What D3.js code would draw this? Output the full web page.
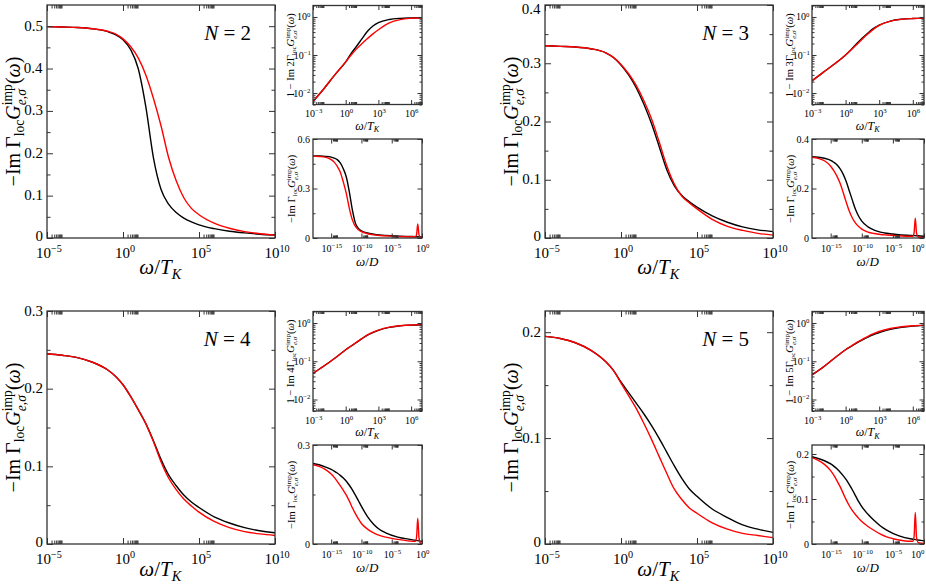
<!DOCTYPE html>
<html>
<head>
<meta charset="utf-8">
<script src="https://cdn.jsdelivr.net/npm/d3@7"></script>
<style>
body { margin: 0; background: #fff; }
svg { display: block; }
</style>
</head>
<body>
<div id="graph"></div>
<script>
const FONT = '"Liberation Serif", "DejaVu Serif", serif';
const FRAME = '#333';

// main panels: x = log10(omega/T_K)
const mainX = [-5,-4,-3,-2,-1,-0.5,0,0.5,1,1.5,2,2.5,3,3.5,4,4.5,5,6,7,8,9,10];
const mainBlackN2 = [0.499,0.498,0.497,0.494,0.487,0.48,0.468,0.445,0.40,0.31,0.19,0.115,0.08,0.06,0.047,0.038,0.031,0.022,0.016,0.012,0.009,0.007];
const mainRedN2   = [0.499,0.498,0.497,0.494,0.488,0.482,0.47,0.452,0.425,0.385,0.33,0.265,0.19,0.135,0.095,0.07,0.055,0.035,0.023,0.015,0.01,0.007];
const mainBlackN3 = [0.330,0.329,0.328,0.325,0.318,0.31,0.297,0.28,0.258,0.23,0.197,0.158,0.118,0.09,0.073,0.062,0.053,0.038,0.027,0.019,0.014,0.011];
const mainRedN3   = [0.330,0.329,0.328,0.325,0.318,0.31,0.298,0.282,0.262,0.236,0.205,0.166,0.125,0.093,0.072,0.06,0.05,0.032,0.02,0.013,0.008,0.005];
const mainBlackN4 = [0.245,0.243,0.240,0.234,0.224,0.216,0.205,0.19,0.173,0.155,0.133,0.109,0.089,0.075,0.063,0.054,0.047,0.035,0.027,0.021,0.017,0.0145];
const mainRedN4   = [0.245,0.243,0.240,0.234,0.224,0.216,0.205,0.19,0.173,0.155,0.132,0.106,0.085,0.07,0.058,0.049,0.041,0.029,0.021,0.016,0.013,0.011];
const mainBlackN5 = [0.196,0.194,0.19,0.183,0.172,0.164,0.153,0.143,0.133,0.123,0.112,0.1,0.087,0.074,0.062,0.052,0.045,0.033,0.025,0.018,0.014,0.011];
const mainRedN5   = [0.196,0.194,0.19,0.183,0.172,0.164,0.152,0.14,0.128,0.114,0.099,0.083,0.067,0.052,0.042,0.034,0.029,0.02,0.014,0.01,0.008,0.006];

// upper insets: x = log10(omega/T_K), y = 1 - Im N Gamma G
const topX = [-3,-2,-1,0,0.5,1,1.5,2,2.5,3,4,5,6,7];
const topBlackN2 = [0.006,0.013,0.03,0.066,0.11,0.17,0.27,0.42,0.58,0.71,0.86,0.92,0.94,0.95];
const topRedN2   = [0.006,0.013,0.03,0.066,0.1,0.145,0.2,0.27,0.36,0.46,0.7,0.85,0.92,0.95];
const topBlackN3 = [0.021,0.035,0.058,0.1,0.14,0.2,0.28,0.38,0.5,0.61,0.78,0.87,0.91,0.93];
const topRedN3   = [0.021,0.035,0.058,0.1,0.138,0.19,0.265,0.36,0.48,0.6,0.78,0.87,0.91,0.93];
const topBlackN4 = [0.048,0.075,0.12,0.2,0.25,0.31,0.39,0.48,0.56,0.64,0.77,0.84,0.88,0.9];
const topRedN4   = [0.048,0.075,0.12,0.2,0.25,0.315,0.395,0.49,0.575,0.655,0.78,0.85,0.89,0.91];
const topBlackN5 = [0.044,0.07,0.12,0.2,0.245,0.3,0.36,0.43,0.5,0.56,0.68,0.77,0.83,0.87];
const topRedN5   = [0.044,0.07,0.12,0.2,0.25,0.31,0.375,0.45,0.525,0.6,0.72,0.8,0.85,0.88];

// lower insets: x = log10(omega/D)
const botX = [-18,-17,-16,-15,-14.5,-14,-13.5,-13,-12.5,-12,-11.5,-11,-10.5,-10,-9,-8,-7,-6,-4,-2,-1,0];
const botRedXL = [-18,-17,-16,-15,-14.5,-14,-13.5,-13,-12.5,-12,-11.5,-11,-10.5,-10,-9,-8,-7,-6,-4,-2,-1.1,-0.9,-0.7,-0.5,-0.3,0];
const botRedXR = [-18,-17,-16,-15,-14.5,-14,-13.5,-13,-12.5,-12,-11.5,-11,-10.5,-10,-9,-8,-7,-6,-4,-2.5,-1.8,-1.6,-1.4,-1.2,-0.9,0];
const botBlackN2 = [0.498,0.497,0.495,0.49,0.484,0.475,0.455,0.42,0.37,0.28,0.17,0.09,0.058,0.043,0.03,0.023,0.018,0.015,0.011,0.009,0.008,0.006];
const botRedN2   = [0.496,0.494,0.49,0.475,0.46,0.435,0.4,0.34,0.27,0.18,0.11,0.07,0.05,0.038,0.026,0.019,0.015,0.013,0.01,0.008,0.008,0.02,0.085,0.02,0.004,0.001];
const botBlackN3 = [0.328,0.326,0.322,0.314,0.306,0.296,0.28,0.258,0.228,0.19,0.152,0.115,0.088,0.068,0.045,0.032,0.024,0.019,0.013,0.01,0.009,0.007];
const botRedN3   = [0.326,0.322,0.312,0.29,0.272,0.25,0.222,0.185,0.145,0.108,0.08,0.06,0.046,0.036,0.024,0.018,0.014,0.012,0.009,0.007,0.007,0.02,0.08,0.02,0.004,0.001];
const botBlackN4 = [0.244,0.24,0.234,0.226,0.221,0.215,0.208,0.2,0.19,0.178,0.164,0.148,0.131,0.114,0.083,0.06,0.044,0.034,0.021,0.014,0.011,0.008];
const botRedN4   = [0.24,0.235,0.226,0.212,0.202,0.19,0.177,0.163,0.148,0.13,0.11,0.092,0.076,0.062,0.045,0.034,0.026,0.021,0.014,0.009,0.008,0.02,0.078,0.02,0.004,0.001];
const botBlackN5 = [0.194,0.19,0.185,0.178,0.173,0.167,0.16,0.152,0.143,0.132,0.12,0.107,0.094,0.083,0.066,0.052,0.04,0.031,0.018,0.011,0.009,0.007];
const botRedN5   = [0.192,0.186,0.177,0.163,0.153,0.141,0.128,0.113,0.098,0.085,0.074,0.065,0.057,0.05,0.039,0.03,0.022,0.016,0.009,0.006,0.006,0.015,0.07,0.015,0.003,0.001];

// tick values
const mainXTicks = [-5,0,5,10];
const topXTicks = [-3,0,3,6];
const topYTicks = [-2,-1,0];
const botXTicks = [-15,-10,-5,0];

const cols = [{m0:47, m1:275, i0:313, i1:422}, {m0:545, m1:773, i0:812, i1:924}];
const rows = [{m0:5, m1:238, t0:5.5, t1:104.5, b0:139, b1:238}, {m0:311, m1:544, t0:311.5, t1:411, b0:445, b1:544}];

const panels = [
  {N:2, c:0, r:0, mY:0.55, mMaj:[0,0.1,0.2,0.3,0.4,0.5], mMin:[0.05,0.15,0.25,0.35,0.45], mB:mainBlackN2, mR:mainRedN2,
   tB:topBlackN2, tR:topRedN2, bB:botBlackN2, bR:botRedN2, bRX:botRedXL, bY:0.6, bMaj:[0,0.3,0.6], bMin:[0.15,0.45]},
  {N:3, c:1, r:0, mY:0.4, mMaj:[0,0.1,0.2,0.3,0.4], mMin:[0.05,0.15,0.25,0.35], mB:mainBlackN3, mR:mainRedN3,
   tB:topBlackN3, tR:topRedN3, bB:botBlackN3, bR:botRedN3, bRX:botRedXR, bY:0.4, bMaj:[0,0.2,0.4], bMin:[0.1,0.3]},
  {N:4, c:0, r:1, mY:0.3, mMaj:[0,0.1,0.2,0.3], mMin:[0.05,0.15,0.25], mB:mainBlackN4, mR:mainRedN4,
   tB:topBlackN4, tR:topRedN4, bB:botBlackN4, bR:botRedN4, bRX:botRedXL, bY:0.3, bMaj:[0,0.3], bMin:[0.15]},
  {N:5, c:1, r:1, mY:0.22, mMaj:[0,0.1,0.2], mMin:[0.05,0.15], mB:mainBlackN5, mR:mainRedN5,
   tB:topBlackN5, tR:topRedN5, bB:botBlackN5, bR:botRedN5, bRX:botRedXR, bY:0.22, bMaj:[0,0.1,0.2], bMin:[0.05,0.15]}
];

const W = 926, H = 586;
const svg = d3.select('#graph').append('svg').attr('width', W).attr('height', H);

// text with italic parts, subscripts and superscripts
function mathText(parent, segs, fs) {
  const t = parent.append('text').attr('font-family', FONT).attr('font-size', fs).attr('fill', '#000');
  let cur = 0, pad = 0;
  const sh = target => { const d = target - cur; cur = target; return d; };
  segs.forEach(s => {
    if (s.sup !== undefined && s.sub !== undefined) {
      const a = t.append('tspan').attr('font-size', fs*0.68).attr('dy', sh(-fs*0.4)).text(s.sup);
      if (pad) { a.attr('dx', pad); pad = 0; }
      const wa = a.node().getComputedTextLength();
      const b = t.append('tspan').attr('font-size', fs*0.68).attr('font-style', 'italic')
        .attr('dx', -wa).attr('dy', sh(fs*0.28)).text(s.sub);
      const wb = b.node().getComputedTextLength();
      pad = Math.max(0, wa - wb);
    } else {
      const target = s.p === 'sup' ? -fs*0.38 : s.p === 'sub' ? fs*0.22 : 0;
      const sp = t.append('tspan').attr('dy', sh(target)).text(s.t);
      if (s.p) sp.attr('font-size', fs*0.68);
      if (s.i) sp.attr('font-style', 'italic');
      if (pad) { sp.attr('dx', pad); pad = 0; }
    }
  });
  return t;
}

function place(g, x, y, segs, fs, anchor) {
  const t = mathText(g, segs, fs);
  const w = t.node().getBBox().width;
  let left = anchor === 'middle' ? x - w/2 : anchor === 'end' ? x - w : x;
  if (left + w > W - 1) left = W - 1 - w;
  t.attr('x', left).attr('y', y);
  return t;
}

function vlabel(g, x, cy, segs, fs) {
  const gg = g.append('g').attr('transform', `translate(${x},${cy}) rotate(-90)`);
  place(gg, 0, 0, segs, fs, 'middle');
}

const pow = e => e < 0 ? '\u2212' + (-e) : String(e);
const logLab = e => [{t:'10'}, {t:pow(e), p:'sup'}];
const decLab = v => [{t: v === 0 ? '0' : d3.format('.1f')(v)}];
const gLabel = pre => pre.concat([{t:'loc', p:'sub'}, {t:'G', i:1}, {sup:'imp', sub:'e,\u03c3'}, {t:'('}, {t:'\u03c9', i:1}, {t:')'}]);
const wTK = [{t:'\u03c9', i:1}, {t:'/'}, {t:'T', i:1}, {t:'K', p:'sub', i:1}];

function minorLog(majors, lo, hi) {
  const out = [];
  majors.forEach(m => { for (let k = 2; k <= 9; k++) { const v = k * Math.pow(10, m); if (v >= lo && v <= hi) out.push(v); } });
  return out;
}

function ticks(g, xs, ys, xMaj, xMin, yMaj, yMin, maj, mnr) {
  const [x0, x1] = xs.range();
  const [y1, y0] = ys.range();
  const mk = (axis, tr) => {
    const a = g.append('g').attr('transform', tr).call(axis);
    a.select('.domain').remove();
    a.selectAll('line').attr('stroke', FRAME).attr('stroke-width', 1);
  };
  [[xMaj, maj], [xMin, mnr]].forEach(([v, len]) => {
    mk(d3.axisBottom(xs).tickValues(v).tickSize(-len).tickFormat(''), `translate(0,${y1})`);
    mk(d3.axisTop(xs).tickValues(v).tickSize(-len).tickFormat(''), `translate(0,${y0})`);
  });
  [[yMaj, maj], [yMin, mnr]].forEach(([v, len]) => {
    mk(d3.axisLeft(ys).tickValues(v).tickSize(-len).tickFormat(''), `translate(${x0},0)`);
    mk(d3.axisRight(ys).tickValues(v).tickSize(-len).tickFormat(''), `translate(${x1},0)`);
  });
  g.append('rect').attr('x', x0).attr('y', y0).attr('width', x1 - x0).attr('height', y1 - y0)
    .attr('fill', 'none').attr('stroke', FRAME).attr('stroke-width', 1.3);
}

let clipN = 0;
function curves(g, xs, ys, series) {
  const [x0, x1] = xs.range();
  const [y1, y0] = ys.range();
  const id = 'clip' + (clipN++);
  g.append('clipPath').attr('id', id).append('rect').attr('x', x0).attr('y', y0).attr('width', x1 - x0).attr('height', y1 - y0);
  const line = d3.line().x(d => xs(Math.pow(10, d[0]))).y(d => ys(d[1])).curve(d3.curveMonotoneX);
  series.forEach(s => {
    g.append('path').attr('clip-path', `url(#${id})`).datum(d3.zip(s.x, s.y))
      .attr('d', line).attr('fill', 'none').attr('stroke', s.c).attr('stroke-width', s.w);
  });
}

panels.forEach(p => {
  const C = cols[p.c], R = rows[p.r];
  const g = svg.append('g');

  // main plot
  const mx = d3.scaleLog().domain([1e-5, 1e10]).range([C.m0, C.m1]);
  const my = d3.scaleLinear().domain([0, p.mY]).range([R.m1, R.m0]);
  curves(g, mx, my, [{x:mainX, y:p.mB, c:'#000', w:1.4}, {x:mainX, y:p.mR, c:'#f00', w:1.4}]);
  ticks(g, mx, my, mainXTicks.map(e => Math.pow(10, e)), minorLog(mainXTicks, 1e-5, 1e10), p.mMaj, p.mMin, 6, 3.5);
  p.mMaj.forEach(v => place(g, C.m0 - 4, Math.max(my(v) + (v === 0 ? 2.5 : 4.5), 13.5), decLab(v), 15, 'end'));
  mainXTicks.forEach(e => place(g, mx(Math.pow(10, e)) + 2, R.m1 + 19.5, logLab(e), 15, 'middle'));
  place(g, (C.m0 + C.m1) / 2, Math.min(R.m1 + 36, H - 10), wTK, 21, 'middle');
  vlabel(g, C.m0 - 27, (R.m0 + R.m1) / 2, gLabel([{t:'\u2212Im \u0393'}]), 20);
  place(g, C.m1 - 23, R.m0 + 35, [{t:'N', i:1}, {t:' = ' + p.N}], 21, 'end');

  // upper inset
  const tx = d3.scaleLog().domain([1e-3, 1e7]).range([C.i0, C.i1]);
  const ty = d3.scaleLog().domain([0.005, 2]).range([R.t1, R.t0]);
  curves(g, tx, ty, [{x:topX, y:p.tB, c:'#000', w:1.4}, {x:topX, y:p.tR, c:'#f00', w:1.4}]);
  ticks(g, tx, ty, topXTicks.map(e => Math.pow(10, e)), minorLog(topXTicks, 1e-3, 1e7),
    topYTicks.map(e => Math.pow(10, e)), minorLog([-3,-2,-1,0], 0.005, 2), 4.5, 2.5);
  topYTicks.forEach(e => place(g, C.i0 - 2, ty(Math.pow(10, e)) + 3.5, logLab(e), 10, 'end'));
  topXTicks.forEach(e => place(g, tx(Math.pow(10, e)) + 1, R.t1 + 12.5, logLab(e), 10, 'middle'));
  place(g, (C.i0 + C.i1) / 2, R.t1 + 25, wTK, 12, 'middle');
  vlabel(g, C.i0 - 19, (R.t0 + R.t1) / 2, gLabel([{t:'1 \u2212 Im ' + p.N + '\u0393'}]), 10.5);

  // lower inset
  const bx = d3.scaleLog().domain([1e-18, 1]).range([C.i0, C.i1]);
  const by = d3.scaleLinear().domain([0, p.bY]).range([R.b1, R.b0]);
  curves(g, bx, by, [{x:botX, y:p.bB, c:'#000', w:1.4}, {x:p.bRX, y:p.bR, c:'#f00', w:1.4}]);
  ticks(g, bx, by, botXTicks.map(e => Math.pow(10, e)), minorLog(botXTicks, 1e-18, 1), p.bMaj, p.bMin, 4.5, 2.5);
  p.bMaj.forEach(v => place(g, C.i0 - 3, by(v) + 3.5, decLab(v), 10, 'end'));
  botXTicks.forEach(e => place(g, bx(Math.pow(10, e)) + 1, R.b1 + 13.5, logLab(e), 10, 'middle'));
  place(g, (C.i0 + C.i1) / 2, R.b1 + 28, [{t:'\u03c9', i:1}, {t:'/'}, {t:'D', i:1}], 13, 'middle');
  vlabel(g, C.i0 - 18, (R.b0 + R.b1) / 2, gLabel([{t:'\u2212Im \u0393'}]), 10.5);
});
</script>
</body>
</html>
